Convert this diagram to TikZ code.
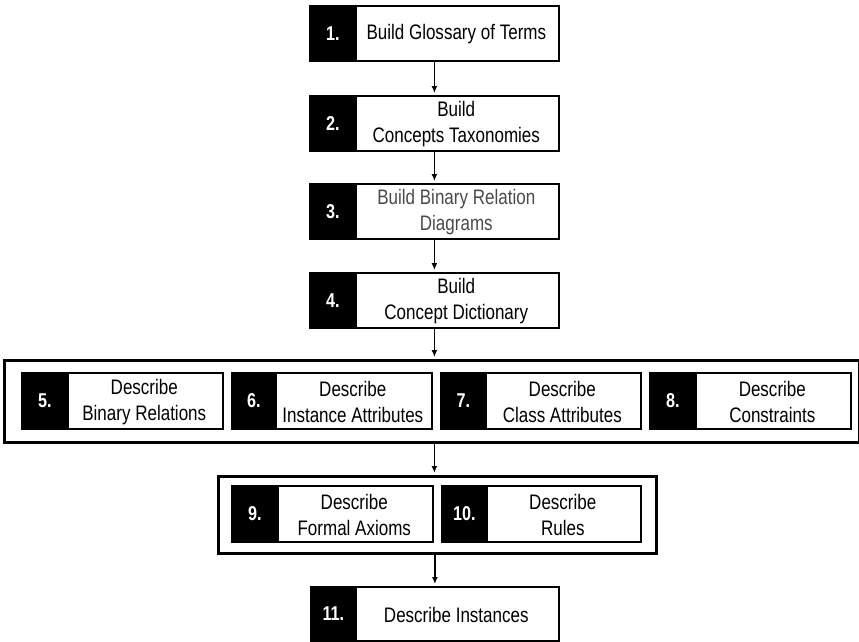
\documentclass[tikz,border=0pt]{standalone}
\usepackage{fontspec}
\setmainfont{Liberation Sans}[FakeStretch=0.81]
\usetikzlibrary{arrows.meta,calc}
\definecolor{softtext}{HTML}{4A4A4A}

\tikzset{
  stepframe/.style={draw=black, fill=white, line width=1.8pt, inner sep=0pt},
  numcell/.style={draw=black, fill=black, line width=1.8pt, inner sep=0pt,
    text=white, font=\fontsize{20}{24}\selectfont\bfseries},
  steptext/.style={inner sep=0pt, align=center, font=\fontsize{21}{26}\selectfont},
  groupframe/.style={draw=black, line width=2.6pt, inner sep=0pt},
  flow/.style={line width=1.5pt, -{Latex[length=7pt,width=6pt]}, shorten >=2pt}
}

% \flowstep{name}{x1}{y1}{x2}{y2}{number cell width}{number}{label}
\newcommand\flowstep[8]{%
  \pgfmathsetmacro\stepw{#4-#2}%
  \pgfmathsetmacro\steph{#5-#3}%
  \node[stepframe, minimum width=\stepw pt, minimum height=\steph pt,
        anchor=north west] (#1) at (#2,#3) {};
  \node[numcell, minimum width=#6pt, minimum height=\steph pt,
        anchor=north west] (#1n) at (#2,#3) {#7};
  \node[steptext] (#1t) at ($(#1n.east)!0.5!(#1.east)+(-2,1)$) {#8};
}

\begin{document}
\begin{tikzpicture}[x=1pt,y=-1pt]
  \useasboundingbox (0,0) rectangle (859,641);

  % main sequence
  \flowstep{s1}{309}{5}{558}{60}{46}{1.}{Build Glossary of Terms}
  \flowstep{s2}{309}{95}{558}{150}{46}{2.}{Build\\Concepts Taxonomies}
  \flowstep{s3}{309}{183}{558}{238}{46}{3.}{\color{softtext}Build Binary Relation\\\color{softtext}Diagrams}
  \flowstep{s4}{309}{272}{558}{327}{46}{4.}{Build\\Concept Dictionary}

  % first group of parallel steps
  \node[groupframe, minimum width=855pt, minimum height=82pt, anchor=north west] (g1) at (3,359) {};
  \flowstep{s5}{21}{372}{222}{428}{46}{5.}{Describe\\Binary Relations}
  \flowstep{s6}{231}{372}{431}{428}{44}{6.}{Describe\\Instance Attributes}
  \flowstep{s7}{440}{372}{640}{428}{45}{7.}{Describe\\Class Attributes}
  \flowstep{s8}{649}{372}{850}{428}{46}{8.}{Describe\\Constraints}

  % second group of parallel steps
  \node[groupframe, minimum width=438pt, minimum height=77pt, anchor=north west] (g2) at (217,475) {};
  \flowstep{s9}{231}{485}{432}{541}{46}{9.}{Describe\\Formal Axioms}
  \flowstep{s10}{441}{485}{640}{541}{45}{10.}{Describe\\Rules}

  % final step
  \flowstep{s11}{310}{586}{558}{640}{45}{11.}{Describe Instances}

  % connectors
  \draw[flow] (s1.south) -- (s2.north);
  \draw[flow] (s2.south) -- (s3.north);
  \draw[flow] (s3.south) -- (s4.north);
  \draw[flow] (s4.south) -- (s4.south |- g1.north);
  \draw[flow] (s4.south |- g1.south) -- (s4.south |- g2.north);
  \draw[flow] (s11.north |- g2.south) -- (s11.north);
\end{tikzpicture}
\end{document}
